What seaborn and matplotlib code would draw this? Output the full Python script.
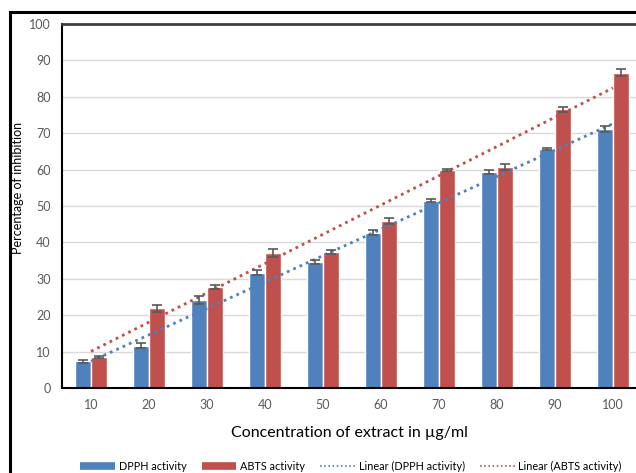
import numpy as np
import pandas as pd
import matplotlib
matplotlib.use("Agg")
import matplotlib.pyplot as plt
from matplotlib.lines import Line2D
from matplotlib.patches import Rectangle
import seaborn as sns

# data
concentrations = [10, 20, 30, 40, 50, 60, 70, 80, 90, 100]
dpph = [7.3, 11.6, 24.2, 31.7, 34.7, 42.7, 51.5, 59.3, 65.7, 71.2]
abts = [8.6, 21.9, 27.8, 37.0, 37.4, 45.9, 59.9, 60.8, 76.6, 86.6]
dpph_err = [0.5, 0.7, 1.0, 0.7, 0.6, 0.8, 0.4, 0.5, 0.2, 0.9]
abts_err = [0.3, 0.9, 0.6, 1.1, 0.5, 0.8, 0.3, 0.8, 0.7, 1.0]
series = ["DPPH activity", "ABTS activity"]

blue = "#4F81BD"
red = "#C0504D"

df = pd.DataFrame({
    "conc": [str(c) for c in concentrations] * 2,
    "value": dpph + abts,
    "series": [series[0]] * len(dpph) + [series[1]] * len(abts),
})

sns.set_theme(style="white")
plt.rcParams["font.family"] = ["Lato", "DejaVu Sans"]

fig = plt.figure(figsize=(6.36, 4.73), dpi=100)
# outer chart frame (cut off at right/bottom like the reference)
fig.patches.append(Rectangle((10 / 636, -0.1), 1.2, 1 - 12 / 473 + 0.1,
                             transform=fig.transFigure, fill=False,
                             edgecolor="black", linewidth=2.2))
ax = fig.add_axes([62 / 636, 1 - 388 / 473, 580 / 636, 364 / 473])

sns.barplot(data=df, x="conc", y="value", hue="series", palette=[blue, red],
            width=0.55, gap=0, saturation=1, legend=False, ax=ax)

# error bars at the bar centres
n = len(concentrations)
errs = dpph_err + abts_err
vals = dpph + abts
for p, v, e in zip(ax.patches, vals, errs):
    cx = p.get_x() + p.get_width() / 2
    ax.errorbar(cx, v, yerr=e, color="#595959", capsize=3.5, elinewidth=1.2,
                capthick=1.2, zorder=4)

# linear trendlines
xpos = np.arange(n)
for vals_s, col in [(dpph, blue), (abts, red)]:
    k, b = np.polyfit(concentrations, vals_s, 1)
    ax.plot(xpos, k * np.array(concentrations) + b, linestyle=(0, (1, 1.5)),
            color=col, linewidth=2, zorder=3)

ax.set_ylim(0, 100)
ax.set_xlim(-0.5, n - 0.5)
ax.set_yticks(range(0, 101, 10))
ax.yaxis.grid(True, color="#D9D9D9", linewidth=1)
ax.set_axisbelow(True)
ax.tick_params(axis="both", labelsize=9, colors="#595959", length=0, pad=8)
ax.set_xlabel("Concentration of extract in µg/ml", fontsize=11.5, color="black")
ax.xaxis.set_label_coords(287 / 580, -38 / 364)
ax.set_ylabel("Percentage of inhibition", fontsize=9, color="black")
ax.yaxis.set_label_coords(-38 / 580, 0.55)
for side in ["top", "right"]:
    ax.spines[side].set_color("#404040")
    ax.spines[side].set_linewidth(2)
for side in ["left", "bottom"]:
    ax.spines[side].set_color("black")
    ax.spines[side].set_linewidth(1.5)

handles = [
    Line2D([], [], color=blue, linewidth=5.5, solid_capstyle="butt"),
    Line2D([], [], color=red, linewidth=5.5, solid_capstyle="butt"),
    Line2D([], [], color=blue, linewidth=1.2, linestyle=(0, (1, 1.5))),
    Line2D([], [], color=red, linewidth=1.2, linestyle=(0, (1, 1.5))),
]
labels = series + ["Linear (DPPH activity)", "Linear (ABTS activity)"]
fig.legend(handles, labels, loc="center", bbox_to_anchor=(351 / 636, 1 - 466 / 473),
           ncol=4, frameon=False, fontsize=7.8, handlelength=3.2,
           columnspacing=1.4, handletextpad=0.35, labelcolor="black",
           borderpad=0, borderaxespad=0)

fig.savefig("out.png", dpi=100)
